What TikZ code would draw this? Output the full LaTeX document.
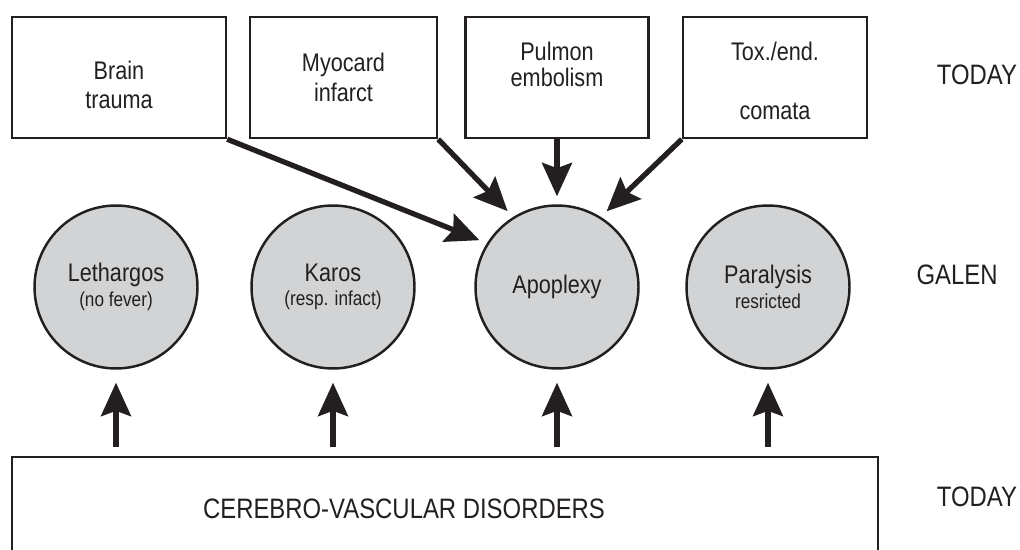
\documentclass[tikz,border=0pt]{standalone}
\usepackage{fontspec}
\setmainfont{Liberation Sans}[FakeStretch=0.85]
\definecolor{ink}{HTML}{231F20}
\definecolor{discgray}{HTML}{D1D3D4}
\usetikzlibrary{positioning,arrows.meta}
\newcommand\subtxt[1]{{\fontsize{11.5}{12}\selectfont #1}}

\begin{document}
\begin{tikzpicture}[x=0.02cm, y=-0.02cm, font=\fontsize{14.5}{17}\selectfont, text=ink]
    \tikzstyle{box}=[draw=ink, line width=1.4pt, minimum height=2.42cm, align=center]
    \tikzstyle{disc}=[circle, draw=ink, fill=discgray, line width=1.4pt,
                      minimum size=3.26cm, align=center]
    \tikzstyle{arrow}=[draw=ink, line width=3pt,
                       -{Stealth[length=19pt, width=17pt, inset=3pt]}]
    \tikzstyle{era}=[font=\fontsize{16}{19}\selectfont]

    \useasboundingbox (0,0) rectangle (1020,550);

    % today: the causes
    \node[box, minimum width=4.28cm] (bt)  at (119,77.5)
         {\rule{0pt}{19pt}Brain\\trauma};
    \node[box, minimum width=3.74cm] (mi)  at (343.5,77.5) {Myocard\\infarct};
    \node[box, minimum width=3.66cm] (pe)  at (557,77.5)
         {Pulmon\\[-2.3pt]embolism\rule[-15pt]{0pt}{15pt}};
    \node[box, minimum width=3.68cm] (tox) at (775,77.5)
         {\rule{0pt}{14.5pt}Tox./end.\\[17pt]comata};

    % galen
    \node[disc] (leth)  at (116,287) {Lethargos\\[-3pt]\subtxt{(no fever)}};
    \node[disc] (karos) at (333,287) {Karos\\[-3pt]\subtxt{(resp. infact)}};
    \node[disc] (apo)   at (557,287) {Apoplexy};
    \node[disc] (para)  at (768,287) {Paralysis\\[-3pt]\subtxt{resricted}};

    % today: the disorders
    \node[box, minimum width=17.32cm, minimum height=2.06cm, line width=1.2pt,
          font=\fontsize{16}{19}\selectfont] (cvd) at (445,508.5)
          {CEREBRO-VASCULAR DISORDERS\hspace*{1.64cm}};

    \node[era] (today1) at (977,75)  {TODAY};
    \node[era] (galen)  at (957,275) {GALEN};
    \node[era] (today2) at (977,497) {TODAY};

    \draw[arrow, shorten >=0.16cm] (bt.south east) -- (apo.148);
    \draw[arrow, shorten >=0.16cm] (mi.south east) -- (apo.122);
    \draw[arrow, shorten >=0.16cm] (pe.south) -- (apo.north);
    \draw[arrow, shorten >=0.16cm] (tox.south west) -- (apo.58);

    \foreach \d in {leth,karos,apo,para}
        \draw[arrow, shorten <=0.18cm, shorten >=0.26cm] (cvd.north -| \d) -- (\d.south);
\end{tikzpicture}
\end{document}
